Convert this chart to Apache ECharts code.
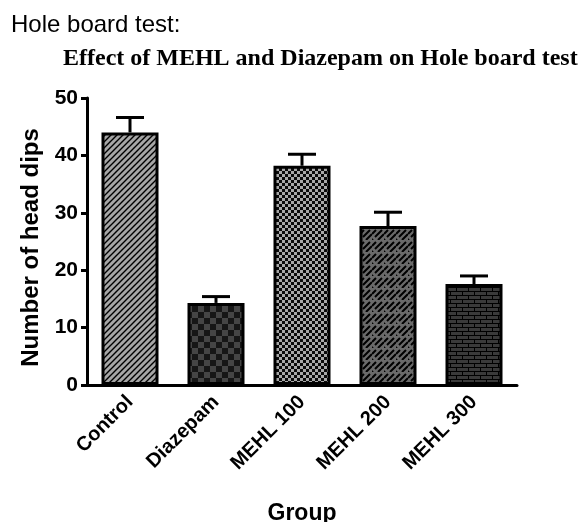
<!DOCTYPE html>
<html>
<head>
<meta charset="utf-8">
<script src="https://cdn.jsdelivr.net/npm/echarts@6/dist/echarts.min.js"></script>
<style>
  html, body { margin: 0; padding: 0; background: #fff; }
  #chart { width: 580px; height: 522px; }
</style>
</head>
<body>
<div id="chart"></div>
<script>
var groups = ['Control', 'Diazepam', 'MEHL 100', 'MEHL 200', 'MEHL 300'];
var means = [44, 14.3, 38.2, 27.7, 17.6];
var sems = [2.6, 1.1, 2.0, 2.4, 1.4];
var yTicks = [0, 10, 20, 30, 40, 50];

// tile patterns for the bar fills
function tile(w, h, draw) {
    var c = document.createElement('canvas');
    c.width = w;
    c.height = h;
    draw(c.getContext('2d'));
    return { image: c, repeat: 'repeat' };
}

var fills = [
    // diagonal hatch
    tile(6, 6, function(ctx) {
        ctx.fillStyle = '#a6a6a6';
        ctx.fillRect(0, 0, 6, 6);
        ctx.strokeStyle = '#000';
        ctx.lineWidth = 1.4;
        ctx.beginPath();
        ctx.moveTo(-1, 7); ctx.lineTo(7, -1);
        ctx.moveTo(-1, 1); ctx.lineTo(1, -1);
        ctx.moveTo(5, 7); ctx.lineTo(7, 5);
        ctx.stroke();
    }),
    // big dark checker
    tile(12, 12, function(ctx) {
        ctx.fillStyle = '#161616';
        ctx.fillRect(0, 0, 12, 12);
        ctx.fillStyle = '#454545';
        ctx.fillRect(0, 0, 6, 6);
        ctx.fillRect(6, 6, 6, 6);
    }),
    // fine checker
    tile(6, 6, function(ctx) {
        ctx.fillStyle = '#0a0a0a';
        ctx.fillRect(0, 0, 6, 6);
        ctx.fillStyle = '#a8a8a8';
        ctx.fillRect(0, 0, 3, 3);
        ctx.fillRect(3, 3, 3, 3);
    }),
    // diagonal brick
    tile(12, 12, function(ctx) {
        ctx.fillStyle = '#6a6a6a';
        ctx.fillRect(0, 0, 12, 12);
        ctx.strokeStyle = '#000';
        ctx.lineWidth = 2;
        ctx.beginPath();
        ctx.moveTo(0, 6); ctx.lineTo(4, 2);
        ctx.moveTo(6, 12); ctx.lineTo(12, 6);
        ctx.moveTo(0, 12); ctx.lineTo(1, 11);
        ctx.moveTo(3, 9); ctx.lineTo(10, 2);
        ctx.stroke();
    }),
    // horizontal brick
    tile(12, 8, function(ctx) {
        ctx.fillStyle = '#3a3a3a';
        ctx.fillRect(0, 0, 12, 8);
        ctx.fillStyle = '#000';
        ctx.fillRect(0, 3, 12, 1);
        ctx.fillRect(0, 7, 12, 1);
        ctx.fillRect(0, 0, 1, 3);
        ctx.fillRect(6, 4, 1, 3);
    })
];

var chart = echarts.init(document.getElementById('chart'));

var option = {
    animation: false,
    title: [
        {
            text: 'Hole board test:',
            left: 6,
            top: 8,
            textStyle: { fontFamily: 'Liberation Sans', fontWeight: 'normal', fontSize: 24, color: '#000' }
        },
        {
            text: 'Effect of MEHL and Diazepam on Hole board test',
            left: 58,
            top: 42,
            textStyle: { fontFamily: 'Liberation Serif', fontWeight: 'bold', fontSize: 24, color: '#000' }
        }
    ],
    grid: { left: 87, right: 63, top: 98, bottom: 137, outerBoundsMode: 'none' },
    xAxis: {
        type: 'category',
        data: groups,
        name: 'Group',
        nameLocation: 'middle',
        nameGap: 117,
        nameTextStyle: { fontFamily: 'Liberation Sans', fontWeight: 'bold', fontSize: 23, color: '#000' },
        axisLine: { lineStyle: { color: '#000', width: 3 } },
        axisTick: { alignWithLabel: true, length: 7, lineStyle: { color: '#000', width: 3 } },
        axisLabel: {
            rotate: 45,
            margin: 14,
            fontFamily: 'Liberation Sans',
            fontWeight: 'bold',
            fontSize: 20,
            color: '#000'
        }
    },
    yAxis: {
        type: 'value',
        min: 0,
        max: 50,
        interval: 10,
        name: 'Number of head dips',
        nameLocation: 'middle',
        nameGap: 43,
        nameTextStyle: {
            fontFamily: 'Liberation Sans',
            fontWeight: 'bold',
            fontSize: 24,
            color: '#000',
            padding: [0, 12, 0, 0]
        },
        axisLine: { show: true, lineStyle: { color: '#000', width: 3 } },
        axisTick: { show: true, length: 6, lineStyle: { color: '#000', width: 3 } },
        axisLabel: {
            margin: 9,
            fontFamily: 'Liberation Sans',
            fontWeight: 'bold',
            fontSize: 21,
            color: '#000',
            formatter: function(v) { return yTicks.indexOf(v) >= 0 ? String(v) : ''; }
        },
        splitLine: { show: false }
    },
    series: [
        {
            type: 'bar',
            barWidth: 57,
            data: means.map(function(v, i) {
                return {
                    value: v,
                    itemStyle: { color: fills[i], borderColor: '#000', borderWidth: 3 }
                };
            }),
            z: 2
        },
        {
            type: 'custom',
            z: 1,
            data: means.map(function(v, i) { return [i, v, v + sems[i]]; }),
            renderItem: function(params, api) {
                var base = api.coord([api.value(0), api.value(1)]);
                var top = api.coord([api.value(0), api.value(2)]);
                var cap = 14;
                return {
                    type: 'group',
                    children: [
                        {
                            type: 'line',
                            shape: { x1: base[0], y1: base[1], x2: top[0], y2: top[1] },
                            style: { stroke: '#000', lineWidth: 3 }
                        },
                        {
                            type: 'line',
                            shape: { x1: top[0] - cap, y1: top[1], x2: top[0] + cap, y2: top[1] },
                            style: { stroke: '#000', lineWidth: 3 }
                        }
                    ]
                };
            }
        }
    ]
};

chart.setOption(option);
</script>
</body>
</html>
